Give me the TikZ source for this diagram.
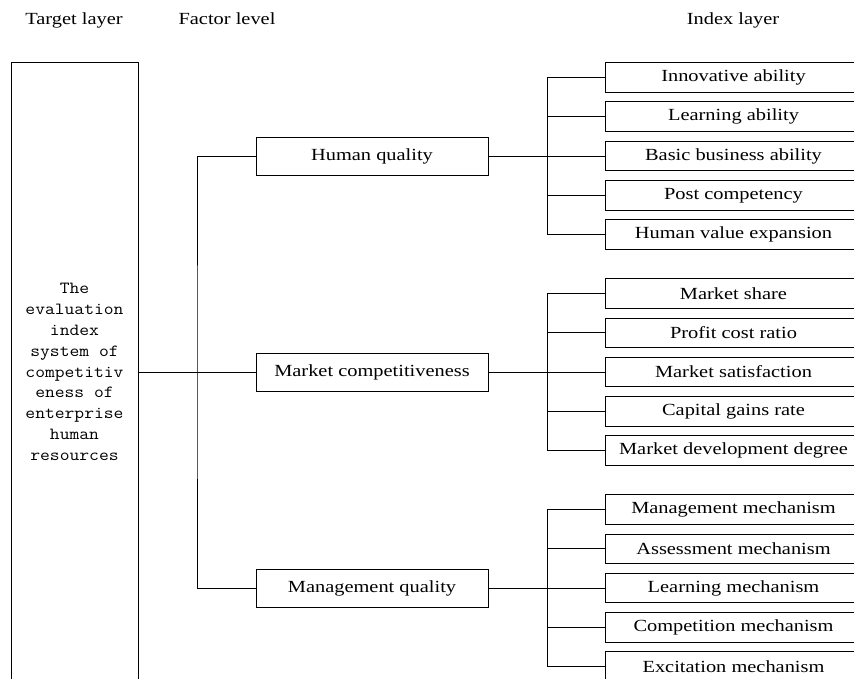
\documentclass[tikz,border=0pt]{standalone}
\usepackage{fontspec}
\setmainfont{Liberation Serif}
\newfontfamily\labfont[FakeStretch=1.2]{Liberation Serif}
\newfontfamily\tgtfont[FakeStretch=1.12]{Latin Modern Mono}
\begin{document}
\begin{tikzpicture}[x=1pt,y=-1pt,
  box/.style={draw, line width=0.9pt, inner sep=0pt, font=\labfont\fontsize{17}{20}\selectfont},
  factor/.style={box, minimum width=232pt, minimum height=38pt},
  indexbox/.style={box, minimum width=257pt, minimum height=29.5pt},
  head/.style={anchor=base, inner sep=0pt, font=\labfont\fontsize{17}{20}\selectfont},
  conn/.style={line width=0.9pt}]
\useasboundingbox (0,0) rectangle (854,679);
\clip (0,0) rectangle (854,679);
% headers
\node[head] (h1) at (74,25) {Target layer};
\node[head] (h2) at (227,25) {Factor level};
\node[head] (h3) at (733,25) {Index layer};
% target
\node[draw, line width=0.9pt, minimum width=127pt, minimum height=620pt, inner sep=0pt,
  align=center, font=\tgtfont\fontsize{17}{20.8}\selectfont] (target) at (74.5,372)
  {The\\evaluation\\index\\system of\\competitiv\\eness of\\enterprise\\human\\resources};
% factors
\node[factor] (hq) at (372,156) {Human quality};
\node[factor] (mc) at (372,372) {Market competitiveness};
\node[factor] (mq) at (372,588) {Management quality};
% trunk
\coordinate (trunk) at (197,372);
\draw[conn] (target.east) -- (mc.west);
\draw[conn] (hq.west) -| (trunk) |- (mq.west);
% index boxes
\foreach \g/\c/\labs in {hq/156/{Innovative ability,Learning ability,Basic business ability,Post competency,Human value expansion},
                         mc/372/{Market share,Profit cost ratio,Market satisfaction,Capital gains rate,Market development degree},
                         mq/588/{Management mechanism,Assessment mechanism,Learning mechanism,Competition mechanism,Excitation mechanism}}{
  \coordinate (\g j) at (547,\c);
  \draw[conn] (\g.east) -- (\g j);
  \foreach \t [count=\i] in \labs {
    \node[indexbox] (\g i\i) at (733.5,{\c+(\i-3)*39.3}) {\t};
    \draw[conn] (\g j) |- (\g i\i.west);
  }
}
\end{tikzpicture}
\end{document}
